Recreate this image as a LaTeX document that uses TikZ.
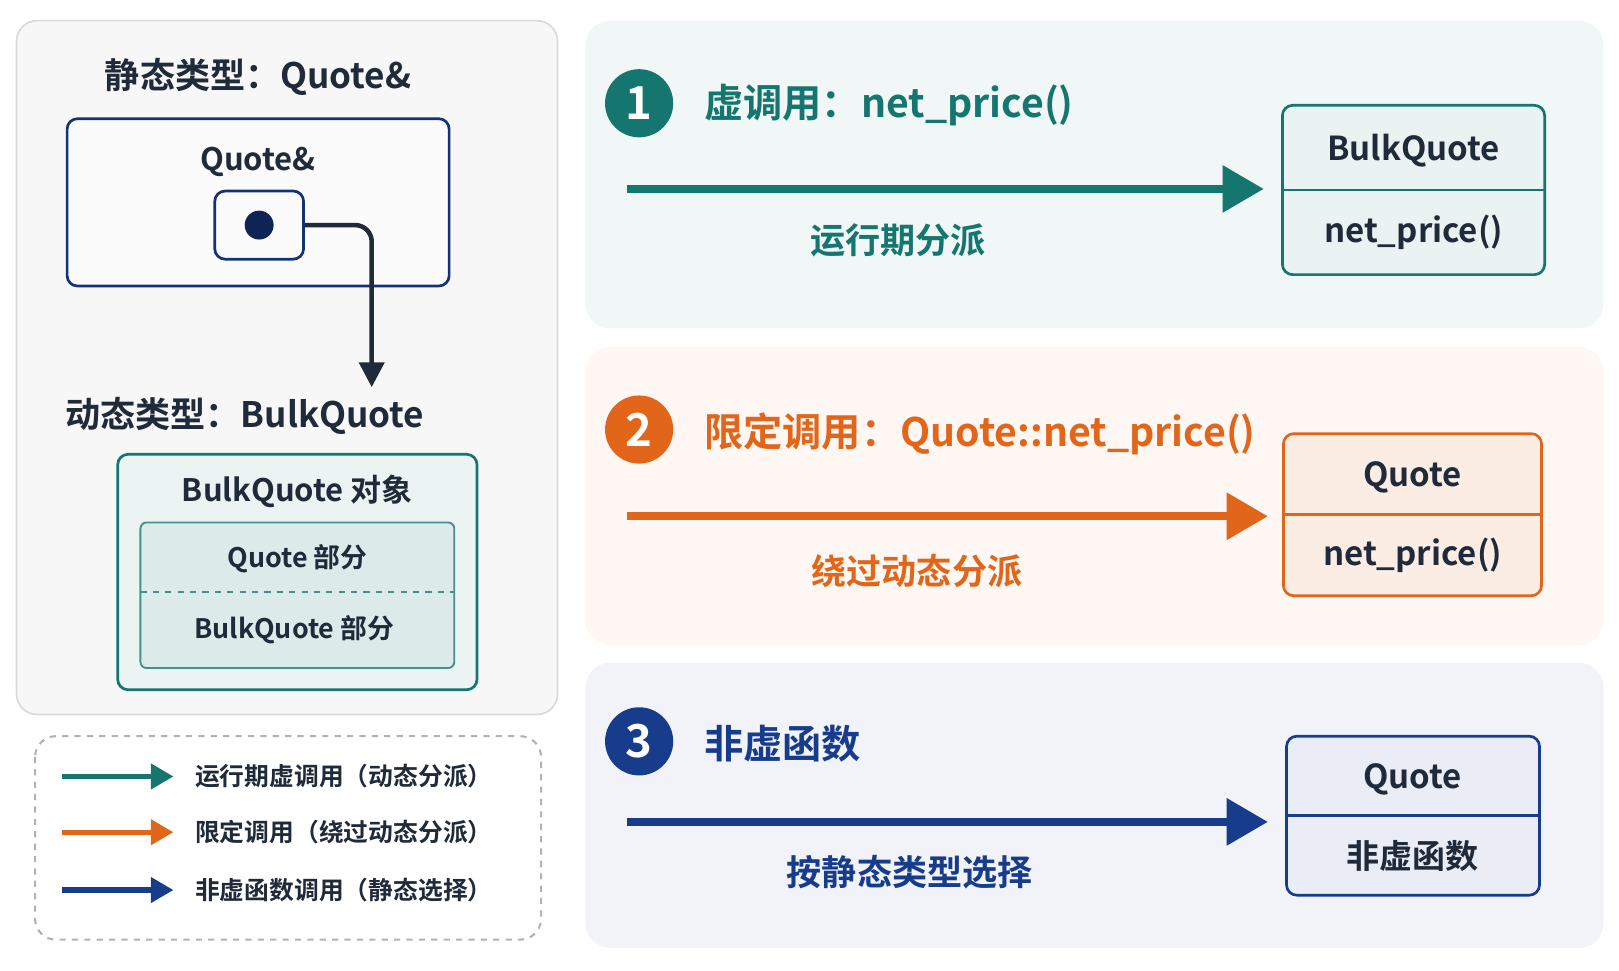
\documentclass[tikz,border=0pt]{standalone}
\usepackage{fontspec}
\setmainfont{Noto Sans CJK SC}[BoldFont={Noto Sans CJK SC Bold}]
\usetikzlibrary{arrows.meta}
\definecolor{teal1}{HTML}{15766F}
\definecolor{orng}{HTML}{E2661A}
\definecolor{navy}{HTML}{173C8C}
\definecolor{ink}{HTML}{1F2A3A}
\begin{document}
\begin{tikzpicture}[x=0.5pt,y=-0.5pt,font=\bfseries,
 panel/.style={rounded corners=12pt,draw=none},
 box/.style={rounded corners=5pt,line width=1.3pt},
 big/.style={line width=4pt,-{Triangle[length=20pt,width=22pt]}},
 leg/.style={line width=2.6pt,-{Triangle[length=11pt,width=12pt]}},
 num/.style={circle,minimum size=33pt,inner sep=0,text=white,font=\bfseries\fontsize{22}{22}\selectfont}]
\useasboundingbox (0,0) rectangle (1568,940);
% left panel
\draw[rounded corners=10pt,fill=gray!6,draw=gray!30,line width=0.8pt] (16,20) rectangle (540,692);
\node[text=ink,font=\bfseries\fontsize{17}{17}\selectfont] (st) at (250,75) {静态类型：Quote\&};
\draw[box,draw=navy!85!black,fill=gray!3] (65,115) rectangle (435,277);
\node[text=ink,font=\bfseries\fontsize{15}{15}\selectfont] (qr) at (250,157) {Quote\&};
\node[box,draw=navy!85!black,fill=gray!3,minimum width=43pt,minimum height=33pt] (sb) at (251,218) {};
\fill[navy!60!black] (sb.center) circle (7pt);
\coordinate (dt) at (360,375);
\draw[line width=2.2pt,ink,rounded corners=8pt,-{Triangle[length=12pt,width=12pt]}] (sb.east) -- (360,218) -- (dt);
\node[text=ink,font=\bfseries\fontsize{17}{17}\selectfont] (dyn) at (237,403) {动态类型：BulkQuote};
\draw[box,draw=teal1,fill=teal1!8] (114,440) rectangle (462,668);
\node[text=ink,font=\bfseries\fontsize{15}{15}\selectfont] at (288,476) {BulkQuote 对象};
\draw[rounded corners=3pt,line width=0.9pt,draw=teal1!80,fill=teal1!15] (136,506) rectangle (440,647);
\draw[dashed,line width=0.9pt,teal1!80] (136,573) -- (440,573);
\node[text=ink,font=\bfseries\fontsize{13}{13}\selectfont] at (288,541) {Quote 部分};
\node[text=ink,font=\bfseries\fontsize{13}{13}\selectfont] at (285,610) {BulkQuote 部分};
% legend
\draw[rounded corners=10pt,dashed,draw=gray!60,line width=1pt] (34,713) rectangle (524,910);
\foreach \y/\c/\t in {752/teal1/运行期虚调用（动态分派）,806/orng/限定调用（绕过动态分派）,862/navy/非虚函数调用（静态选择）}{
  \coordinate (l\y a) at (60,\y); \coordinate (l\y b) at (168,\y);
  \draw[leg,\c] (l\y a) -- (l\y b);
  \node[anchor=west,text=ink,font=\bfseries\fontsize{12}{12}\selectfont] at (182,\y) {\t};
}
% right panels
\fill[panel,fill=teal1!6] (567,20) rectangle (1553,318);
\fill[panel,fill=orng!5] (567,336) rectangle (1553,625);
\fill[panel,fill=navy!6] (567,642) rectangle (1553,918);
% panel 1
\node[num,fill=teal1] at (619,100) {1};
\node[anchor=west,text=teal1,font=\bfseries\fontsize{19}{19}\selectfont] at (675,102) {虚调用：net\_price()};
\draw[box,draw=teal1,fill=teal1!9] (1242,102) rectangle (1496,266);
\draw[line width=1.3pt,teal1] (1242,184) -- (1496,184);
\node[text=ink,font=\bfseries\fontsize{16}{16}\selectfont] at (1369,146) {BulkQuote};
\node[text=ink,font=\bfseries\fontsize{16}{16}\selectfont] at (1369,225) {net\_price()};
\coordinate (a1s) at (607,183); \coordinate (a1e) at (1224,183);
\draw[big,teal1] (a1s) -- (a1e);
\node[text=teal1,font=\bfseries\fontsize{17}{17}\selectfont] at (870,233) {运行期分派};
% panel 2
\node[num,fill=orng] at (619,416) {2};
\node[anchor=west,text=orng,font=\bfseries\fontsize{19}{19}\selectfont] at (675,420) {限定调用：Quote::net\_price()};
\draw[box,draw=orng,fill=orng!12] (1243,420) rectangle (1493,577);
\draw[line width=1.3pt,orng] (1243,498) -- (1493,498);
\node[text=ink,font=\bfseries\fontsize{16}{16}\selectfont] at (1368,462) {Quote};
\node[text=ink,font=\bfseries\fontsize{16}{16}\selectfont] at (1368,538) {net\_price()};
\coordinate (a2s) at (607,500); \coordinate (a2e) at (1228,500);
\draw[big,orng] (a2s) -- (a2e);
\node[text=orng,font=\bfseries\fontsize{17}{17}\selectfont] at (888,553) {绕过动态分派};
% panel 3
\node[num,fill=navy] at (619,718) {3};
\node[anchor=west,text=navy,font=\bfseries\fontsize{19}{19}\selectfont] at (675,720) {非虚函数};
\draw[box,draw=navy,fill=navy!9] (1246,713) rectangle (1491,867);
\draw[line width=1.3pt,navy] (1246,790) -- (1491,790);
\node[text=ink,font=\bfseries\fontsize{16}{16}\selectfont] at (1368,755) {Quote};
\node[text=ink,font=\bfseries\fontsize{16}{16}\selectfont] at (1368,829) {非虚函数};
\coordinate (a3s) at (607,796); \coordinate (a3e) at (1228,796);
\draw[big,navy] (a3s) -- (a3e);
\node[text=navy,font=\bfseries\fontsize{17}{17}\selectfont] at (881,845) {按静态类型选择};
\end{tikzpicture}
\end{document}
